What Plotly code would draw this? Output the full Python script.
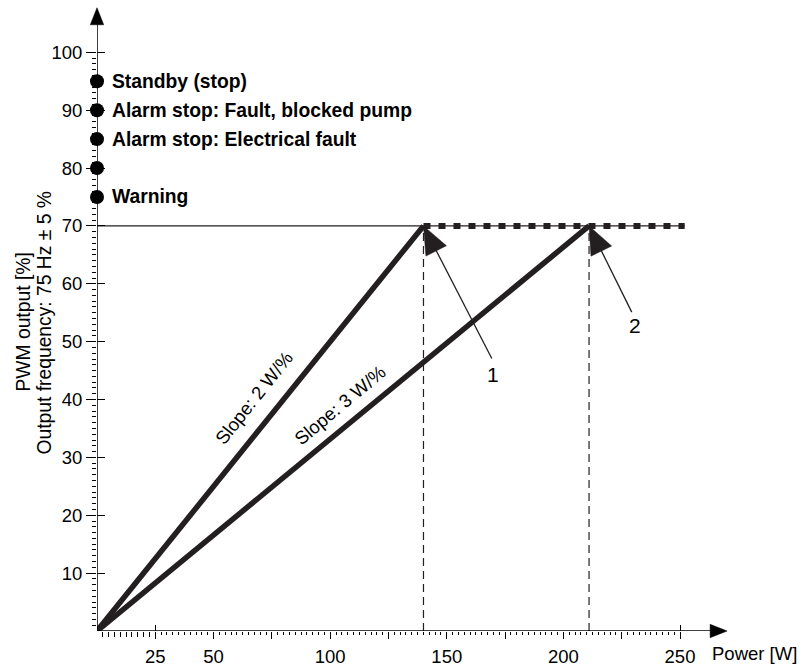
import math
import plotly.graph_objects as go

# ---------------- data ----------------
status_pwm = [95, 90, 85, 80, 75]
status_text = ["Standby (stop)", "Alarm stop: Fault, blocked pump",
               "Alarm stop: Electrical fault", "", "Warning"]

slope2_power = [0, 140]
slope2_pwm = [0, 70]
slope3_power = [0, 211]
slope3_pwm = [0, 70]

pwm_limit = 70
limit_power_end = 252

x_tickvals = [25, 50, 75, 100, 125, 150, 175, 200, 225, 250]
x_ticktext = ["25", "50", "", "100", "", "150", "", "200", "", "250"]
y_tickvals = [10, 20, 30, 40, 50, 60, 70, 80, 90, 100]

slope_labels = ["Slope: 2 W/%", "Slope: 3 W/%"]
slope_label_x = [67.5, 104.0]
slope_label_y = [40.3, 39.0]

callout_labels = ["1", "2"]
callout_tip_x = [140, 211]
callout_tip_y = [70, 70]
callout_tail_x = [169.3, 229.3]
callout_tail_y = [47.1, 55.1]
callout_label_x = [169.9, 230.7]
callout_label_y = [44.3, 52.8]

y_title_lines = ["PWM output [%]", "Output frequency: 75 Hz \u00b1 5 %"]

x_axis_end = 270.2
y_axis_end = 107.7

# ---------------- geometry / style ----------------
W, H = 800, 672
ML, MR, MT, MB = 97, 20, 5, 32
PW, PH = W - ML - MR, H - MT - MB
XR = [0, PW / 2.332]
YR = [0, PH / 5.87]
kx = PW / (XR[1] - XR[0])
ky = PH / (YR[1] - YR[0])

INK = "#231f20"
FONT = "Liberation Sans, Arial, sans-serif"

fig = go.Figure()

# thin 70 % line
fig.add_trace(go.Scatter(x=[0, limit_power_end], y=[pwm_limit, pwm_limit], mode="lines",
                         line=dict(color=INK, width=1.2), hoverinfo="skip", showlegend=False))
# thick dotted part
fig.add_trace(go.Scatter(x=[slope2_power[1], limit_power_end], y=[pwm_limit, pwm_limit], mode="lines",
                         line=dict(color=INK, width=6, dash="7px,8px"), hoverinfo="skip", showlegend=False))
# vertical dashed lines
for px in [slope2_power[1], slope3_power[1]]:
    fig.add_trace(go.Scatter(x=[px, px], y=[0, pwm_limit], mode="lines",
                             line=dict(color=INK, width=1.2, dash="8px,5px"),
                             hoverinfo="skip", showlegend=False))
# slope lines
for xs, ys in [(slope2_power, slope2_pwm), (slope3_power, slope3_pwm)]:
    fig.add_trace(go.Scatter(x=xs, y=ys, mode="lines", line=dict(color=INK, width=5.5),
                             hoverinfo="skip", showlegend=False, cliponaxis=False))

# status dots
fig.add_trace(go.Scatter(x=[0] * len(status_pwm), y=status_pwm, mode="markers",
                         marker=dict(color="black", size=14), cliponaxis=False,
                         hoverinfo="skip", showlegend=False))

shapes = []
annotations = []

# axes lines
shapes.append(dict(type="line", xref="x", yref="y", x0=0, y0=0, x1=x_axis_end - 3 / kx, y1=0,
                   line=dict(color="black", width=1.5)))
shapes.append(dict(type="line", xref="x", yref="y", x0=0, y0=0, x1=0, y1=y_axis_end - 3 / ky,
                   line=dict(color="black", width=1.5)))
# axis arrowheads (pixel paths, y up)
shapes.append(dict(type="path", xref="paper", yref="y", xsizemode="pixel", ysizemode="pixel",
                   xanchor=1e-6, yanchor=y_axis_end, path="M0,0 L-6.7,-17 L6.7,-17 Z",
                   fillcolor="black", line=dict(color="black", width=0.5)))
shapes.append(dict(type="path", xref="x", yref="paper", xsizemode="pixel", ysizemode="pixel",
                   xanchor=x_axis_end, yanchor=1e-6, path="M0,0 L-17,6.7 L-17,-6.7 Z",
                   fillcolor="black", line=dict(color="black", width=0.5)))

# callout arrows
HL, HW = 28, 11.5
for lab, tx, ty, sx, sy, lx, ly in zip(callout_labels, callout_tip_x, callout_tip_y,
                                        callout_tail_x, callout_tail_y,
                                        callout_label_x, callout_label_y):
    shapes.append(dict(type="line", xref="x", yref="y", x0=sx, y0=sy, x1=tx, y1=ty,
                       line=dict(color=INK, width=1.3)))
    dx = (tx - sx) * kx
    dy = (ty - sy) * ky
    n = math.hypot(dx, dy)
    ux, uy = dx / n, dy / n
    bx, by = -HL * ux, -HL * uy
    nx, ny = -uy, ux
    p = "M0,0 L{:.2f},{:.2f} L{:.2f},{:.2f} Z".format(bx + HW * nx, by + HW * ny,
                                                     bx - HW * nx, by - HW * ny)
    shapes.append(dict(type="path", xref="x", yref="y", xsizemode="pixel", ysizemode="pixel",
                       xanchor=tx, yanchor=ty, path=p, fillcolor=INK,
                       line=dict(color=INK, width=0.5)))
    annotations.append(dict(x=lx, y=ly, xref="x", yref="y", text=lab, showarrow=False,
                            font=dict(family=FONT, size=21, color="black")))

# status labels
for v, t in zip(status_pwm, status_text):
    if t:
        annotations.append(dict(x=0, y=v, xref="x", yref="y", text=t, showarrow=False,
                                xanchor="left", yanchor="middle", xshift=13,
                                font=dict(family=FONT, size=19.3, color="black", weight="bold")))

# slope labels
for t, lx, ly, xs, ys in zip(slope_labels, slope_label_x, slope_label_y,
                             [slope2_power, slope3_power], [slope2_pwm, slope3_pwm]):
    ang = math.degrees(math.atan2((ys[1] - ys[0]) * ky, (xs[1] - xs[0]) * kx))
    annotations.append(dict(x=lx, y=ly, xref="x", yref="y", text=t, showarrow=False,
                            textangle=-ang, font=dict(family=FONT, size=18.5, color="black")))

# axis titles
annotations.append(dict(x=x_axis_end, y=0, xref="x", yref="y", text="Power [W]", showarrow=False,
                        xanchor="left", yanchor="middle", xshift=-17, yshift=-22,
                        font=dict(family=FONT, size=18.5, color="black")))
for t, xs in zip(y_title_lines, [-73, -52]):
    annotations.append(dict(x=0, y=53.3, xref="paper", yref="y", text=t,
                            showarrow=False, textangle=-90, xanchor="center", yanchor="middle",
                            xshift=xs, font=dict(family=FONT, size=19.3, color="black")))

x_minor_small = [v / 10 for v in range(25, 250, 25)]
x_minor_rest = [v / 10 for v in range(275, 2500, 25) if v % 250 != 0]
y_minor = [v for v in range(1, 100) if v % 10 != 0]

fig.update_layout(
    width=W, height=H, margin=dict(l=ML, r=MR, t=MT, b=MB),
    paper_bgcolor="white", plot_bgcolor="white",
    shapes=shapes, annotations=annotations,
    font=dict(family=FONT, size=18, color="black"),
    xaxis=dict(range=XR, showgrid=False, zeroline=False, showline=False,
               tickmode="array", tickvals=x_tickvals, ticktext=x_ticktext,
               ticks="outside", ticklen=7, tickwidth=1.2, tickcolor="black",
               ticklabelstandoff=2,
               tickfont=dict(family=FONT, size=18.5, color="black"),
               minor=dict(tickvals=x_minor_rest, ticks="outside", ticklen=3,
                          tickwidth=1, tickcolor="black")),
    xaxis2=dict(range=XR, overlaying="x", anchor="y", showgrid=False, zeroline=False,
                showline=False, showticklabels=False,
                tickmode="array", tickvals=x_minor_small, ticks="outside", ticklen=5,
                tickwidth=1, tickcolor="black",
                minor=dict(tickvals=[25, 250], ticks="inside", ticklen=6,
                           tickwidth=1.2, tickcolor="black")),
    yaxis=dict(range=YR, showgrid=False, zeroline=False, showline=False,
               tickmode="array", tickvals=y_tickvals,
               ticks="outside", ticklen=10, tickwidth=1.2, tickcolor="black",
               tickfont=dict(family=FONT, size=18.5, color="black"),
               minor=dict(tickvals=y_minor, ticks="outside", ticklen=4,
                          tickwidth=1, tickcolor="black")),
    yaxis2=dict(range=YR, overlaying="y", anchor="x", side="left", showgrid=False,
                zeroline=False, showline=False, showticklabels=False,
                tickmode="array", tickvals=y_tickvals, ticks="inside", ticklen=8,
                tickwidth=1.2, tickcolor="black"),
)

# invisible trace so overlay axes are drawn
fig.add_trace(go.Scatter(x=[None], y=[None], xaxis="x2", yaxis="y2", showlegend=False,
                         hoverinfo="skip"))

fig.write_html("out.html")
